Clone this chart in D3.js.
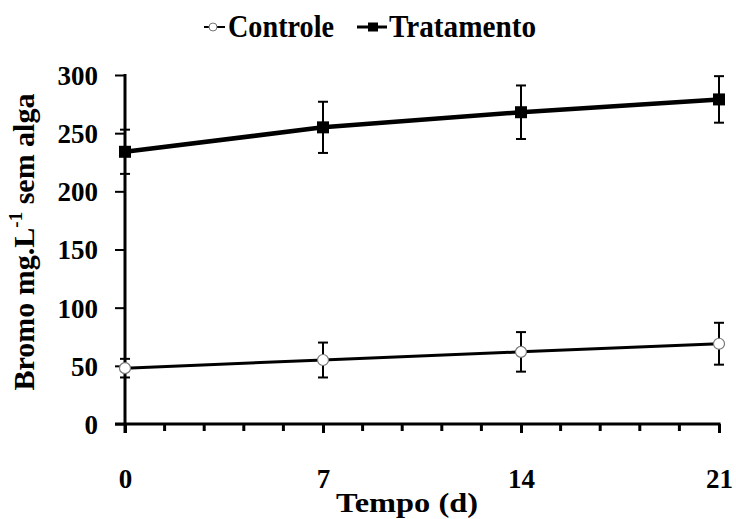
<!DOCTYPE html>
<html>
<head>
<meta charset="utf-8">
<script src="https://cdn.jsdelivr.net/npm/d3@7/dist/d3.min.js"></script>
<style>
  html, body { margin: 0; padding: 0; background: #fff; }
  svg { display: block; }
  text { font-family: "Liberation Serif", "Times New Roman", serif; fill: #000; }
</style>
</head>
<body>
<svg id="chart" width="736" height="519"></svg>
<script>
// Bromine concentration over time, control vs. treatment (mean ± error)
const days = [0, 7, 14, 21];
const controle = [48, 55, 62, 69];
const controleErr = [8, 15, 17, 18];
const tratamento = [234, 255, 268, 279];
const tratamentoErr = [19, 22, 23, 20];
const xTickValues = [0, 7, 14, 21];
const yTickValues = [0, 50, 100, 150, 200, 250, 300];
const seriesNames = ["Controle", "Tratamento"];

const svg = d3.select("#chart");
const x = d3.scaleLinear().domain([0, 21]).range([125, 719]);
const y = d3.scaleLinear().domain([0, 300]).range([424, 75]);

// x axis: major ticks with labels, minor ticks every 1.4 d
const xAxisG = svg.append("g").attr("transform", `translate(0,${y(0)})`);
xAxisG.call(d3.axisBottom(x).tickValues(xTickValues).tickSize(9).tickPadding(36).tickFormat(d3.format("d")));
xAxisG.select(".domain").remove();
xAxisG.selectAll(".tick line").attr("stroke", "#000").attr("stroke-width", 3);
xAxisG.selectAll(".tick text").attr("font-size", 27).attr("font-weight", "bold")
  .attr("font-family", "Liberation Serif, serif");
const minor = d3.range(0, 21.001, 1.4).filter(v => !xTickValues.some(t => Math.abs(t - v) < 1e-6));
xAxisG.selectAll(".minor").data(minor).enter().append("line")
  .attr("x1", d => x(d)).attr("x2", d => x(d)).attr("y1", 0).attr("y2", 7)
  .attr("stroke", "#000").attr("stroke-width", 3);
xAxisG.append("line").attr("x1", 115).attr("x2", x(21) + 1.5).attr("y1", 0).attr("y2", 0)
  .attr("stroke", "#000").attr("stroke-width", 3);

// y axis
const yAxisG = svg.append("g").attr("transform", `translate(${x(0)},0)`);
yAxisG.call(d3.axisLeft(y).tickValues(yTickValues).tickSize(10).tickPadding(17).tickFormat(d3.format("d")));
yAxisG.select(".domain").remove();
yAxisG.selectAll(".tick line").attr("stroke", "#000").attr("stroke-width", 2);
yAxisG.selectAll(".tick text").attr("font-size", 27).attr("font-weight", "bold")
  .attr("font-family", "Liberation Serif, serif").attr("dy", "0.35em");
yAxisG.append("line").attr("x1", 0).attr("x2", 0).attr("y1", y(300) - 1).attr("y2", y(0) + 9)
  .attr("stroke", "#000").attr("stroke-width", 3);

// axis titles
svg.append("text").attr("x", 336).attr("y", 512)
  .attr("font-size", 28).attr("font-weight", "bold").text("Tempo (d)")
  .attr("textLength", 142).attr("lengthAdjust", "spacingAndGlyphs");
const yTitle = svg.append("text").attr("transform", `translate(34,242) rotate(-90)`)
  .attr("text-anchor", "middle").attr("font-size", 30).attr("font-weight", "bold");
yTitle.append("tspan").text("Bromo mg.L");
yTitle.append("tspan").attr("dy", -12).attr("font-size", 19).text("-1");
yTitle.append("tspan").attr("dy", 12).text(" sem alga");

// series
const line = d3.line().x((d, i) => x(days[i])).y(d => y(d));

function drawErr(vals, errs) {
  const g = svg.append("g").attr("stroke", "#000").attr("stroke-width", 2);
  days.forEach((d, i) => {
    const cx = x(d), top = y(vals[i] + errs[i]), bot = y(vals[i] - errs[i]);
    g.append("line").attr("x1", cx).attr("x2", cx).attr("y1", top).attr("y2", bot);
    g.append("line").attr("x1", cx - 5).attr("x2", cx + 5).attr("y1", top).attr("y2", top);
    g.append("line").attr("x1", cx - 5).attr("x2", cx + 5).attr("y1", bot).attr("y2", bot);
  });
}

drawErr(tratamento, tratamentoErr);
drawErr(controle, controleErr);

svg.append("path").datum(tratamento).attr("d", line)
  .attr("fill", "none").attr("stroke", "#000").attr("stroke-width", 4.5);
svg.append("path").datum(controle).attr("d", line)
  .attr("fill", "none").attr("stroke", "#000").attr("stroke-width", 3);

svg.selectAll(".sq").data(tratamento).enter().append("rect")
  .attr("x", (d, i) => x(days[i]) - 6).attr("y", d => y(d) - 6)
  .attr("width", 12).attr("height", 12).attr("fill", "#000");
svg.selectAll(".ci").data(controle).enter().append("circle")
  .attr("cx", (d, i) => x(days[i])).attr("cy", d => y(d)).attr("r", 5.5)
  .attr("fill", "#fff").attr("stroke", "#777").attr("stroke-width", 1.2);

// legend
const leg = svg.append("g");
leg.append("line").attr("x1", 204).attr("x2", 225).attr("y1", 27).attr("y2", 27)
  .attr("stroke", "#000").attr("stroke-width", 2);
leg.append("circle").attr("cx", 213).attr("cy", 27).attr("r", 4)
  .attr("fill", "#fff").attr("stroke", "#777").attr("stroke-width", 1);
leg.append("text").attr("x", 228).attr("y", 37).attr("font-size", 32).attr("font-weight", "bold")
  .text(seriesNames[0]).attr("textLength", 106).attr("lengthAdjust", "spacingAndGlyphs");
leg.append("line").attr("x1", 357).attr("x2", 387).attr("y1", 27).attr("y2", 27)
  .attr("stroke", "#000").attr("stroke-width", 3);
leg.append("rect").attr("x", 368).attr("y", 22.5).attr("width", 10).attr("height", 9).attr("fill", "#000");
leg.append("text").attr("x", 389).attr("y", 37).attr("font-size", 32).attr("font-weight", "bold")
  .text(seriesNames[1]).attr("textLength", 147).attr("lengthAdjust", "spacingAndGlyphs");
</script>
</body>
</html>
